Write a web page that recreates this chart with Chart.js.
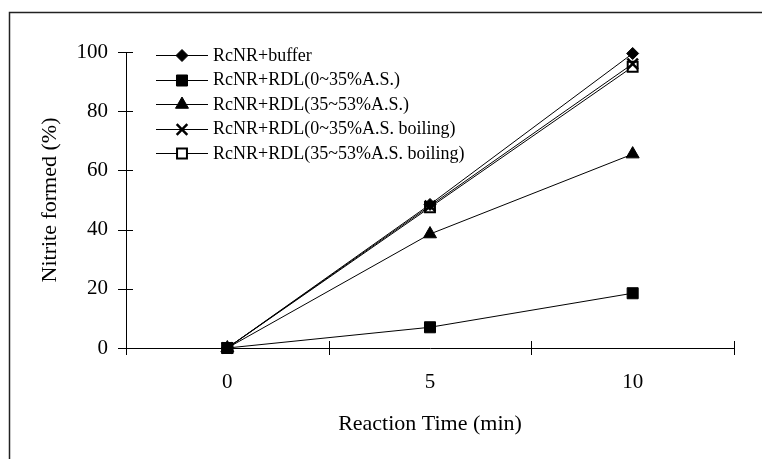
<!DOCTYPE html>
<html lang="en">
<head>
  <meta charset="UTF-8" />
  <title>Nitrite formed vs Reaction Time</title>
  <script src="https://cdn.jsdelivr.net/npm/chart.js"></script>
  <style>
    html, body { margin: 0; padding: 0; background: #fff; }
    #wrap { width: 762px; height: 459px; }
  </style>
</head>
<body>
  <div id="wrap"><canvas id="chart" width="762" height="459"></canvas></div>

  <script>
    // data
    const timeLabels = ["0", "5", "10"];
    const yTicks = [0, 20, 40, 60, 80, 100];

    const seriesNames = [
      "RcNR+buffer",
      "RcNR+RDL(0~35%A.S.)",
      "RcNR+RDL(35~53%A.S.)",
      "RcNR+RDL(0~35%A.S. boiling)",
      "RcNR+RDL(35~53%A.S. boiling)"
    ];
    const buffer = [0, 48.5, 99.5];
    const rdl0to35 = [0, 7, 18.5];
    const rdl35to53 = [0, 38.5, 65.5];
    const rdl0to35Boil = [0, 48, 96];
    const rdl35to53Boil = [0, 47.5, 95];

    const FONT = "'Liberation Serif', 'Times New Roman', serif";

    // marker look per series
    const markers = [
      { pointStyle: "rectRot", radius: 6, fill: "#000", border: 1 },
      { pointStyle: "rect", radius: 7.8, fill: "#000", border: 1 },
      { pointStyle: "triangle", radius: 7.5, fill: "#000", border: 1 },
      { pointStyle: "crossRot", radius: 7.5, fill: "#000", border: 2.5 },
      { pointStyle: "rect", radius: 7, fill: "#fff", border: 2 }
    ];

    const allValues = [buffer, rdl0to35, rdl35to53, rdl0to35Boil, rdl35to53Boil];

    const datasets = allValues.map((vals, i) => ({
      label: seriesNames[i],
      data: vals,
      borderColor: "#000",
      borderWidth: 1,
      pointStyle: markers[i].pointStyle,
      pointRadius: markers[i].radius,
      pointHoverRadius: markers[i].radius,
      pointBackgroundColor: markers[i].fill,
      pointBorderColor: "#000",
      pointBorderWidth: markers[i].border,
      tension: 0,
      clip: false
    }));

    // outer frame like the Excel chart area (right/bottom edges fall off the picture)
    const framePlugin = {
      id: "frame",
      beforeDraw(chart) {
        const ctx = chart.ctx;
        ctx.save();
        ctx.strokeStyle = "#222";
        ctx.lineWidth = 1.5;
        ctx.beginPath();
        ctx.moveTo(9.5, 470);
        ctx.lineTo(9.5, 12.5);
        ctx.lineTo(780, 12.5);
        ctx.stroke();
        ctx.restore();
      }
    };

    // tick marks that cross the axis lines
    const crossTicks = {
      id: "crossTicks",
      beforeDatasetsDraw(chart) {
        const ctx = chart.ctx;
        const xs = chart.scales.x, ys = chart.scales.y;
        const axisX = xs.left, axisY = ys.bottom;
        ctx.save();
        ctx.strokeStyle = "#000";
        ctx.lineWidth = 1;
        ctx.beginPath();
        ys.ticks.forEach(t => {
          const py = Math.round(ys.getPixelForValue(t.value)) + 0.5;
          ctx.moveTo(axisX - 8, py);
          ctx.lineTo(axisX + 7, py);
        });
        for (let i = 0; i <= timeLabels.length; i++) {
          const px = Math.round(xs.getPixelForValue(i - 0.5)) + 0.5;
          ctx.moveTo(px, axisY - 7);
          ctx.lineTo(px, axisY + 7);
        }
        ctx.stroke();
        ctx.restore();
      }
    };

    // legend: short line with the marker, then the name
    const lineLegend = {
      id: "lineLegend",
      afterDraw(chart) {
        const ctx = chart.ctx;
        const x0 = 156, x1 = 208, mx = 182, tx = 213;
        const top = 55, step = 24.5;
        ctx.save();
        ctx.font = "18px " + FONT;
        ctx.textBaseline = "middle";
        ctx.fillStyle = "#000";
        chart.data.datasets.forEach((ds, i) => {
          const y = top + i * step;
          ctx.strokeStyle = "#000";
          ctx.lineWidth = 1;
          ctx.beginPath();
          ctx.moveTo(x0, Math.round(y) + 0.5);
          ctx.lineTo(x1, Math.round(y) + 0.5);
          ctx.stroke();
          ctx.fillStyle = ds.pointBackgroundColor;
          ctx.strokeStyle = ds.pointBorderColor;
          ctx.lineWidth = ds.pointBorderWidth;
          Chart.helpers.drawPoint(ctx, {
            pointStyle: ds.pointStyle,
            radius: ds.pointRadius,
            rotation: 0,
            borderWidth: ds.pointBorderWidth
          }, mx, Math.round(y) + 0.5);
          ctx.fillStyle = "#000";
          ctx.fillText(ds.label, tx, y + 1);
        });
        ctx.restore();
      }
    };

    new Chart(document.getElementById("chart"), {
      type: "line",
      data: { labels: timeLabels, datasets },
      plugins: [framePlugin, crossTicks, lineLegend],
      options: {
        responsive: false,
        devicePixelRatio: 1,
        animation: false,
        events: [],
        layout: { padding: { top: 52, right: 28, bottom: 0, left: 0 } },
        plugins: {
          legend: { display: false },
          tooltip: { enabled: false }
        },
        scales: {
          x: {
            type: "category",
            offset: true,
            grid: { display: false, drawTicks: false },
            border: { display: true, color: "#000", width: 1 },
            ticks: {
              color: "#000",
              padding: 22,
              font: { family: FONT, size: 21 }
            },
            title: {
              display: true,
              text: "Reaction Time (min)",
              color: "#000",
              font: { family: FONT, size: 22 },
              padding: { top: 0, bottom: 22 }
            },
            afterFit(scale) { scale.height = 111; }
          },
          y: {
            min: 0,
            max: 100,
            afterBuildTicks(scale) { scale.ticks = yTicks.map(v => ({ value: v })); },
            grid: { display: false, drawTicks: false },
            border: { display: true, color: "#000", width: 1 },
            ticks: {
              color: "#000",
              padding: 18,
              font: { family: FONT, size: 21 }
            },
            title: {
              display: true,
              text: "Nitrite formed (%)",
              color: "#000",
              font: { family: FONT, size: 22 },
              padding: { top: 37, bottom: 0 }
            },
            afterFit(scale) { scale.width = 126; }
          }
        }
      }
    });
  </script>
</body>
</html>
